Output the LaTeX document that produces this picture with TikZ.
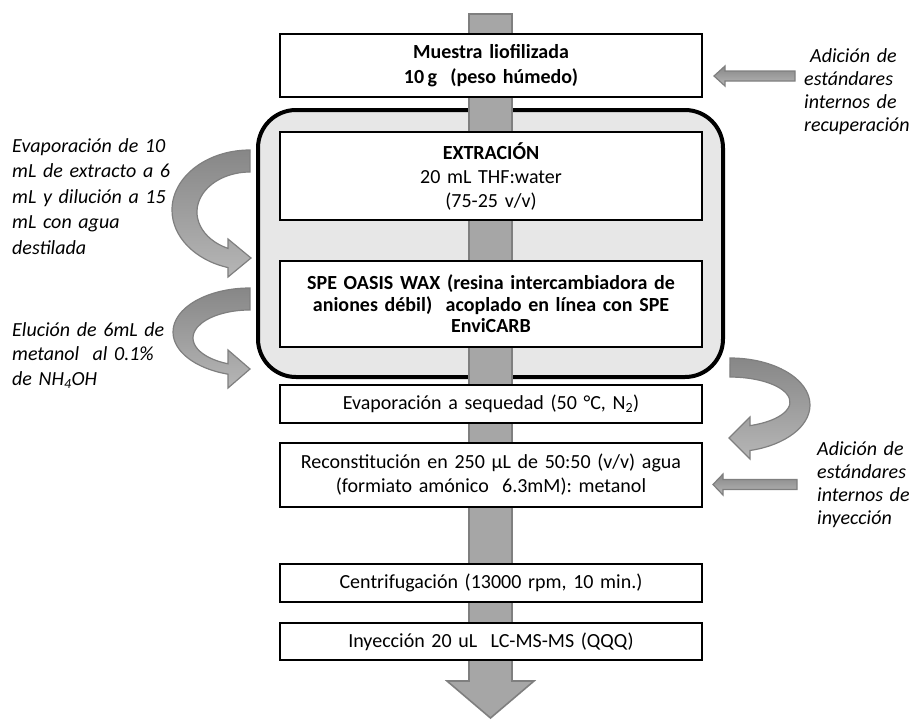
\documentclass[tikz,border=0pt]{standalone}
\usepackage{fontspec}
\setmainfont{Carlito}
\usetikzlibrary{arrows.meta,calc,positioning}
\definecolor{arrfill}{RGB}{166,166,166}
\definecolor{arrline}{RGB}{127,127,127}
\definecolor{arrdark}{RGB}{135,135,135}
\definecolor{arrlight}{RGB}{182,182,182}
\definecolor{grupofill}{RGB}{231,231,231}
\tikzset{
  stepbox/.style={draw,line width=1.2pt,fill=white,minimum width=422pt,text width=412pt,
    align=center,inner sep=0pt,font=\fontsize{20}{24}\selectfont},
  grupo/.style={draw,line width=4pt,fill=grupofill,rounded corners=38pt},
  sidetext/.style={text width=180pt,align=left,inner sep=0pt,font=\fontsize{20}{23}\selectfont\itshape},
  bar/.style={draw=arrline,fill=arrfill,line width=1.6pt},
  sarrow/.style={draw=arrline,line width=1.2pt,top color=arrdark,bottom color=arrlight},
  carrow/.style={draw=arrline,line width=1.2pt,top color=arrdark,bottom color=arrlight}
}
\begin{document}
\begin{tikzpicture}[x=1pt,y=-1pt]
\useasboundingbox (0,0) rectangle (921,720);
% recuadro de la extraccion
\node[grupo,minimum width=465pt,minimum height=267pt] (grupo) at (490.5,243.5) {};
% flecha central
\draw[bar] (469,14) -- (512,14) -- (512,681) -- (534,681) -- (490.5,718) -- (447,681) -- (469,681) -- cycle;
% pasos
\node[stepbox,minimum height=63pt,font=\fontsize{20}{24.5}\selectfont\bfseries] (muestra) at (491,65.5)
  {Muestra liofilizada\\10\,g\ \ (peso húmedo)};
\node[stepbox,minimum height=88pt] (extr) at (491,176) {\textbf{EXTRACIÓN}\\20 mL THF:water\\(75-25 v/v)};
\node[stepbox,minimum height=86pt,font=\fontsize{20}{21.5}\selectfont\bfseries] (spe) at (491,304)
  {SPE OASIS WAX (resina intercambiadora de\\aniones débil)\ \ acoplado en línea con SPE\\EnviCARB};
\node[stepbox,minimum height=38pt] (evapseca) at (491,404) {Evaporación a sequedad (50 °C, N\textsubscript{2})};
\node[stepbox,minimum height=64pt] (recons) at (491,475)
  {Reconstitución en 250 µL de 50:50 (v/v) agua\\(formiato amónico\ \ 6.3mM): metanol};
\node[stepbox,minimum height=38pt] (centri) at (491,583) {Centrifugación (13000 rpm, 10 min.)};
\node[stepbox,minimum height=37pt] (inyec) at (491,641.5) {Inyección 20 uL\ \ LC-MS-MS (QQQ)};
% textos laterales
\node[sidetext,anchor=base west,font=\fontsize{20}{25.5}\selectfont\itshape] (lblevap) at (12,152)
  {Evaporación de 10\\mL de extracto a 6\\mL y dilución a 15\\mL con agua\\destilada};
\node[sidetext,anchor=base west,font=\fontsize{20}{24.5}\selectfont\itshape] (lblelu) at (12,336)
  {Elución de 6mL de\\metanol\ \ al 0.1\%\\de NH\textsubscript{4}OH};
\node[sidetext,anchor=base west] (lblrec) at (804,62.7)
  {\hspace*{6pt}Adición de\\estándares\\internos de\\recuperación};
\node[sidetext,anchor=base west,font=\fontsize{20}{23.3}\selectfont\itshape] (lbliny) at (817,455)
  {Adición de\\estándares\\internos de\\inyección};
% flechas rectas
\draw[sarrow] (795,71) -- (725,71) -- (725,66) -- (714,76) -- (725,86) -- (725,81) -- (795,81) -- cycle;
\draw[sarrow] (797,479.5) -- (723,479.5) -- (723,474) -- (713,484.5) -- (723,495) -- (723,489.5) -- (797,489.5) -- cycle;
% flechas curvas
\draw[carrow] (250,150) arc[start angle=270,end angle=106.4,x radius=78,y radius=60]
  -- (228,277) -- (251,258) -- (228,239) -- (228,248.4)
  arc[start angle=114.5,end angle=270,x radius=53,y radius=40] -- cycle;
\draw[carrow] (250,288) arc[start angle=270,end angle=106.6,x radius=77,y radius=44]
  -- (228,388) -- (250,369) -- (228,350) -- (228,363.8)
  arc[start angle=112.7,end angle=270,x radius=57,y radius=28] -- cycle;
\draw[carrow] (730,358) arc[start angle=270,end angle=435.5,x radius=80,y radius=47]
  -- (750,459) -- (729,438) -- (750,417) -- (750,425.6)
  arc[start angle=430.5,end angle=270,x radius=60,y radius=25] -- cycle;
\end{tikzpicture}
\end{document}
